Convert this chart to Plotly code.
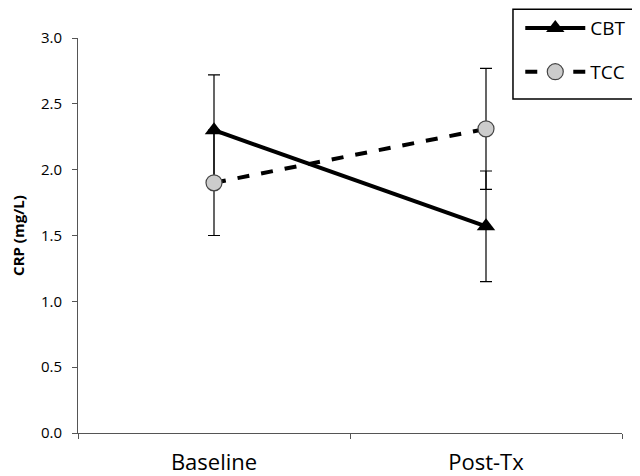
import plotly.graph_objects as go

categories = ["Baseline", "Post-Tx"]
cbt_values = [2.30, 1.57]
cbt_errors = [0.42, 0.42]
tcc_values = [1.90, 2.31]
tcc_errors = [0.40, 0.46]
y_ticks = [0.0, 0.5, 1.0, 1.5, 2.0, 2.5, 3.0]
y_tick_labels = ["0.0", "0.5", "1.0", "1.5", "2.0", "2.5", "3.0"]

fig = go.Figure()
fig.add_trace(go.Scatter(
    x=categories, y=cbt_values, name="CBT", mode="lines+markers",
    line=dict(color="black", width=4),
    marker=dict(symbol="triangle-up", size=16, color="black"),
    error_y=dict(type="data", array=cbt_errors, color="black", thickness=1.2, width=6),
    legendgroup="a",
))
fig.add_trace(go.Scatter(
    x=categories, y=tcc_values, name="TCC", mode="lines+markers",
    line=dict(color="black", width=4, dash="dash"),
    marker=dict(symbol="circle", size=16, color="#cccccc", line=dict(color="#444444", width=1.2)),
    error_y=dict(type="data", array=tcc_errors, color="black", thickness=1.2, width=6),
    legendgroup="b",
))

font_family = "Open Sans, Lato, sans-serif"
fig.update_layout(
    width=632, height=468,
    margin=dict(l=70, r=18, t=30, b=43, autoexpand=False),
    paper_bgcolor="white", plot_bgcolor="white",
    font=dict(family=font_family, color="black"),
    showlegend=True,
    legend=dict(
        x=0.813, y=1.073, xanchor="left", yanchor="top",
        borderwidth=0, bgcolor="rgba(0,0,0,0)",
        font=dict(size=19, family=font_family, color="black"),
        traceorder="grouped", tracegroupgap=16,
        itemwidth=60,
    ),
    shapes=[dict(
        type="rect", xref="paper", yref="paper",
        x0=0.7996, x1=1.029, y0=0.8456, y1=1.073,
        line=dict(color="black", width=1.5), fillcolor="rgba(0,0,0,0)",
    )],
    xaxis=dict(
        type="category", range=[-0.5, 1.5], automargin=False,
        showline=True, linecolor="#555555", linewidth=1,
        ticks="outside", tickson="boundaries", ticklen=5, tickcolor="#555555",
        tickfont=dict(size=22, family=font_family, color="black"),
        ticklabelstandoff=10,
        showgrid=False, zeroline=False,
    ),
    yaxis=dict(
        range=[0, 3.0], automargin=False,
        tickvals=y_ticks, ticktext=y_tick_labels,
        showline=True, linecolor="#555555", linewidth=1,
        ticks="outside", ticklen=5, tickcolor="#555555",
        tickfont=dict(size=15, family=font_family, color="black"),
        ticklabelstandoff=7,
        title=dict(text="<b>CRP (mg/L)</b>", font=dict(size=15, family=font_family, color="black"), standoff=20),
        showgrid=False, zeroline=False,
    ),
)

fig.write_html("out.html")
